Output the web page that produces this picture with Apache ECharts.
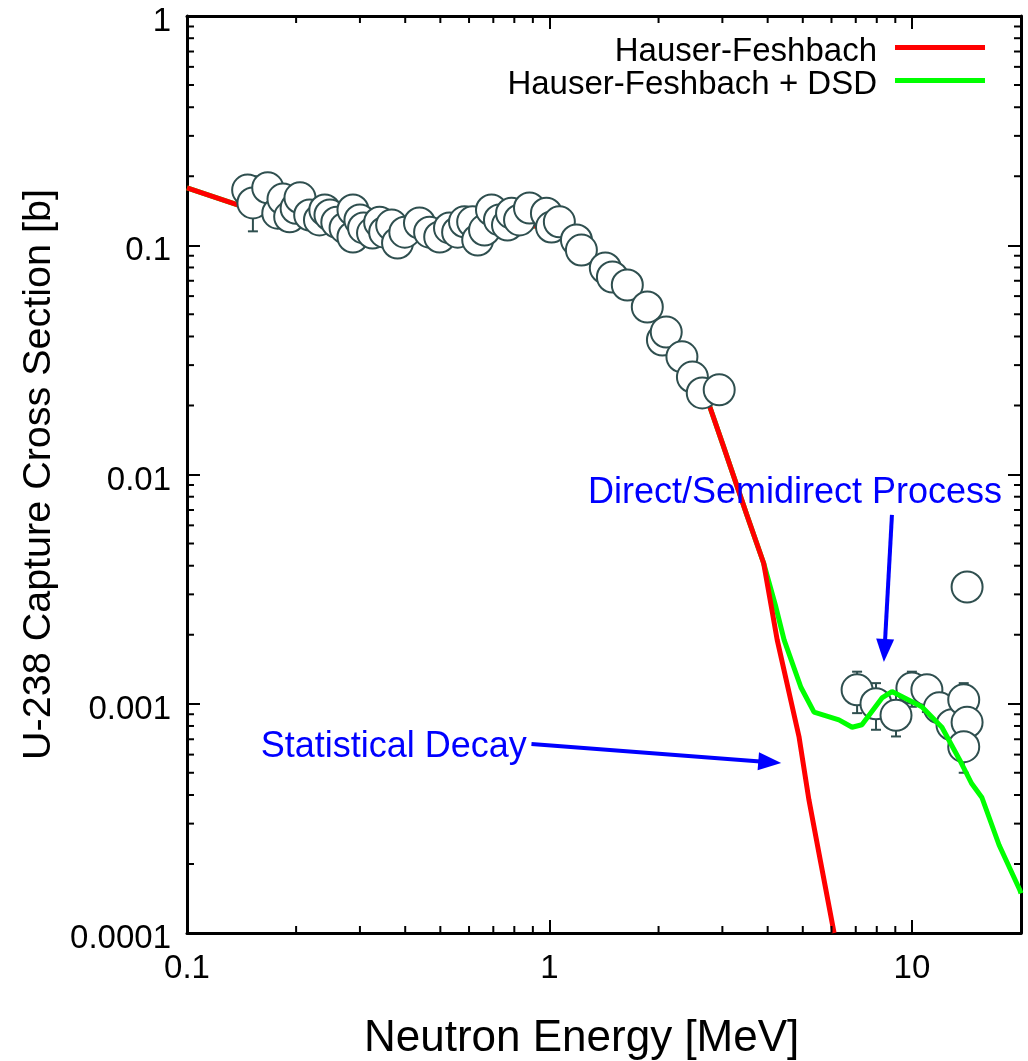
<!DOCTYPE html>
<html>
<head>
<meta charset="utf-8">
<script src="https://cdn.jsdelivr.net/npm/echarts@6/dist/echarts.min.js"></script>
<style>
  html, body { margin: 0; padding: 0; background: #fff; }
  #chart { width: 1028px; height: 1061px; }
</style>
</head>
<body>
<div id="chart"></div>
<script>
// measured capture data below 3 MeV, energy in MeV, cross section in barn
var lowEnergy = [0.147, 0.152, 0.167, 0.178, 0.184, 0.192, 0.200, 0.205, 0.218, 0.232,
  0.240, 0.248, 0.259, 0.273, 0.287, 0.287, 0.300, 0.307, 0.325, 0.340,
  0.351, 0.367, 0.381, 0.399, 0.438, 0.467, 0.498, 0.530, 0.558, 0.583,
  0.614, 0.634, 0.662, 0.692, 0.728, 0.766, 0.786, 0.827, 0.881, 0.981,
  1.013, 1.065, 1.187, 1.225, 1.426, 1.492, 1.640, 1.862, 2.05, 2.10,
  2.32, 2.48, 2.64, 2.94];
var lowXS = [0.174, 0.153, 0.178, 0.138, 0.159, 0.133, 0.145, 0.161, 0.1355, 0.129,
  0.1425, 0.1355, 0.126, 0.119, 0.1086, 0.1425, 0.129, 0.119, 0.113, 0.126,
  0.114, 0.1225, 0.1023, 0.114, 0.125, 0.114, 0.1086, 0.119, 0.114, 0.1265,
  0.1265, 0.1054, 0.1165, 0.1425, 0.129, 0.1225, 0.138, 0.129, 0.1454, 0.138,
  0.120, 0.1265, 0.1054, 0.0953, 0.0796, 0.0727, 0.0671, 0.0538, 0.0386, 0.0418,
  0.0326, 0.0266, 0.0227, 0.0234];

// measured capture data around 14 MeV
var highEnergy = [7.06, 7.96, 9.04, 10.0, 11.0, 11.9, 12.9, 13.9, 14.2, 13.9, 14.2];
var highXS = [0.00115, 0.00100, 0.00089, 0.00117, 0.00115, 0.00096, 0.00081, 0.00104, 0.00083, 0.00065, 0.00323];

// visible error bars
var errEnergy = [0.152, 2.48, 7.06, 7.96, 9.04, 10.0, 11.0, 13.9, 13.9];
var errLow = [0.115, 0.0218, 0.00091, 0.00077, 0.00072, 0.00097, 0.00092, 0.00087, 0.00050];
var errHigh = [0.200, 0.0320, 0.00138, 0.00123, 0.00111, 0.00138, 0.00133, 0.00123, 0.00080];

// Hauser-Feshbach calculation
var hfEnergy = [0.1, 0.138, 0.2, 0.3, 0.5, 0.7, 1.0, 1.2, 1.5, 1.9, 2.3, 2.75, 3.0, 3.5, 3.9,
  4.25, 4.88, 5.2, 5.6, 6.1];
var hfXS = [0.178, 0.150, 0.138, 0.128, 0.122, 0.125, 0.120, 0.105, 0.077, 0.052, 0.033, 0.0204, 0.0137, 0.0067, 0.0041,
  0.0019, 0.00072, 0.00038, 0.000204, 0.0001];

// Hauser-Feshbach + direct/semidirect
var dsdEnergy = [0.1, 0.138, 0.2, 0.3, 0.5, 0.7, 1.0, 1.2, 1.5, 1.9, 2.3, 2.75, 3.0, 3.5, 3.9,
  4.2, 4.44, 4.94, 5.37, 6.29, 6.84, 7.28, 8.27, 8.81, 10.65, 12.1, 13.7, 14.6, 15.6, 17.4, 19.85, 20];
var dsdXS = [0.178, 0.150, 0.138, 0.128, 0.122, 0.125, 0.120, 0.105, 0.077, 0.052, 0.033, 0.0204, 0.0137, 0.0067, 0.0041,
  0.0027, 0.0019, 0.00118, 0.00092, 0.00085, 0.00079, 0.00081, 0.00106, 0.00113, 0.00097, 0.00079, 0.00055, 0.00045, 0.00039, 0.000242, 0.000154, 0.000149];

var xTickLabels = ['0.1', '1', '10'];
var yTickLabels = ['0.0001', '0.001', '0.01', '0.1', '1'];
var xMinorTicks = [0.2, 0.3, 0.4, 0.5, 0.6, 0.7, 0.8, 0.9, 2, 3, 4, 5, 6, 7, 8, 9];
var yMinorTicks = [0.0002, 0.0003, 0.0004, 0.0005, 0.0006, 0.0007, 0.0008, 0.0009,
  0.002, 0.003, 0.004, 0.005, 0.006, 0.007, 0.008, 0.009,
  0.02, 0.03, 0.04, 0.05, 0.06, 0.07, 0.08, 0.09,
  0.2, 0.3, 0.4, 0.5, 0.6, 0.7, 0.8, 0.9];

var annotationTexts = ['Direct/Semidirect Process', 'Statistical Decay'];
var annotationAt = [[4.76, 0.0083], [0.372, 0.000648]];
var arrowFrom = [[8.81, 0.00666], [0.892, 0.000668]];
var arrowTo = [[8.37, 0.00152], [4.36, 0.000551]];

var FONT = '"Liberation Sans", Arial, sans-serif';
var DOT = '#2f4f4f';

function pickLabel(list, rich) {
  return function (v) {
    for (var i = 0; i < list.length; i++) {
      var n = +list[i];
      if (Math.abs(v - n) <= n * 1e-6) return rich ? '{a|' + list[i] + '}' : list[i];
    }
    return '';
  };
}

function zip(a, b) {
  return a.map(function (v, i) { return [v, b[i]]; });
}

function minorX(params, api) {
  var cs = params.coordSys;
  var x = api.coord([api.value(0), 1])[0];
  var b = cs.y + cs.height, t = cs.y;
  var st = { stroke: '#000', lineWidth: 2 };
  return { type: 'group', children: [
    { type: 'line', shape: { x1: x, y1: b, x2: x, y2: b - 7 }, style: st },
    { type: 'line', shape: { x1: x, y1: t, x2: x, y2: t + 7 }, style: st }
  ] };
}

function minorY(params, api) {
  var cs = params.coordSys;
  var y = api.coord([1, api.value(1)])[1];
  var l = cs.x, r = cs.x + cs.width;
  var st = { stroke: '#000', lineWidth: 2 };
  return { type: 'group', children: [
    { type: 'line', shape: { x1: l, y1: y, x2: l + 7, y2: y }, style: st },
    { type: 'line', shape: { x1: r, y1: y, x2: r - 7, y2: y }, style: st }
  ] };
}

function errBar(params, api) {
  var e = api.value(0);
  var lo = api.coord([e, api.value(1)]), hi = api.coord([e, api.value(2)]);
  var w = 5;
  var st = { stroke: DOT, lineWidth: 2 };
  return { type: 'group', children: [
    { type: 'line', shape: { x1: lo[0], y1: lo[1], x2: hi[0], y2: hi[1] }, style: st },
    { type: 'line', shape: { x1: lo[0] - w, y1: lo[1], x2: lo[0] + w, y2: lo[1] }, style: st },
    { type: 'line', shape: { x1: hi[0] - w, y1: hi[1], x2: hi[0] + w, y2: hi[1] }, style: st }
  ] };
}

function arrow(params, api) {
  var s = api.coord([api.value(0), api.value(1)]);
  var t = api.coord([api.value(2), api.value(3)]);
  var dx = t[0] - s[0], dy = t[1] - s[1];
  var len = Math.sqrt(dx * dx + dy * dy);
  var ux = dx / len, uy = dy / len;
  var hl = 23, hw = 9;
  var bx = t[0] - ux * hl, by = t[1] - uy * hl;
  return { type: 'group', children: [
    { type: 'line', shape: { x1: s[0], y1: s[1], x2: bx + ux * 2, y2: by + uy * 2 }, style: { stroke: '#0000ff', lineWidth: 4 } },
    { type: 'polygon', shape: { points: [[t[0], t[1]], [bx - uy * hw, by + ux * hw], [bx + uy * hw, by - ux * hw]] }, style: { fill: '#0000ff' } }
  ] };
}

function note(params, api) {
  var p = api.coord([api.value(0), api.value(1)]);
  return { type: 'text', x: p[0], y: p[1], style: {
    text: annotationTexts[params.dataIndex], fill: '#0000ff',
    fontSize: 36, fontFamily: FONT, align: 'center', verticalAlign: 'middle'
  } };
}

var axisLineStyle = { color: '#000', width: 3 };
var majorTick = { show: true, inside: true, length: 13, lineStyle: { color: '#000', width: 2 } };
var openCircle = { color: '#fff', borderColor: DOT, borderWidth: 2, opacity: 1 };

var chart = echarts.init(document.getElementById('chart'), null, { renderer: 'canvas' });
chart.setOption({
  animation: false,
  backgroundColor: '#fff',
  textStyle: { fontFamily: FONT },
  title: {
    text: 'Neutron Energy [MeV]',
    left: 364, top: 1017, padding: 0,
    textStyle: { fontSize: 44, fontWeight: 'normal', color: '#000', fontFamily: FONT }
  },
  grid: { left: 187, right: 7, top: 16, bottom: 128 },
  legend: {
    data: ['Hauser-Feshbach', 'Hauser-Feshbach + DSD'],
    orient: 'vertical', align: 'right',
    right: 43, top: 27, padding: 0, itemGap: -8,
    icon: 'rect', itemWidth: 90, itemHeight: 5,
    formatter: function (name) { return '{a|' + name + '}'; },
    textStyle: {
      fontSize: 33, color: '#000', fontFamily: FONT,
      rich: { a: { fontSize: 33, color: '#000', fontFamily: FONT, lineHeight: 26, padding: [8, 13, 0, 0] } }
    }
  },
  xAxis: [{
    type: 'log', logBase: 10, min: 0.1, max: 20, interval: 1,
    position: 'bottom',
    axisLine: { onZero: false, lineStyle: axisLineStyle },
    axisTick: majorTick,
    axisLabel: { fontSize: 33, color: '#000', margin: 19, formatter: pickLabel(xTickLabels, false), showMaxLabel: false },
    splitLine: { show: false }
  }, {
    type: 'log', logBase: 10, min: 0.1, max: 20, interval: 1,
    position: 'top',
    axisLine: { onZero: false, lineStyle: axisLineStyle },
    axisTick: majorTick,
    axisLabel: { show: false },
    splitLine: { show: false }
  }],
  yAxis: [{
    type: 'log', logBase: 10, min: 0.0001, max: 1, interval: 1,
    position: 'left',
    name: 'U-238 Capture Cross Section [b]',
    nameLocation: 'middle', nameGap: 122,
    nameTruncate: { maxWidth: 2000 },
    nameTextStyle: { fontSize: 39.5, color: '#000', fontFamily: FONT },
    axisLine: { onZero: false, lineStyle: axisLineStyle },
    axisTick: majorTick,
    axisLabel: {
      fontSize: 33, color: '#000', margin: 16, formatter: pickLabel(yTickLabels, true),
      rich: { a: { fontSize: 33, color: '#000', fontFamily: FONT, padding: [12, 0, 0, 0] } }
    },
    splitLine: { show: false }
  }, {
    type: 'log', logBase: 10, min: 0.0001, max: 1, interval: 1,
    position: 'right',
    axisLine: { onZero: false, lineStyle: axisLineStyle },
    axisTick: majorTick,
    axisLabel: { show: false },
    splitLine: { show: false }
  }],
  series: [
    {
      type: 'custom', renderItem: errBar, z: 1,
      encode: { x: 0, y: [1, 2] },
      data: errEnergy.map(function (e, i) { return [e, errLow[i], errHigh[i]]; })
    },
    {
      type: 'scatter', symbol: 'circle', symbolSize: 31, z: 1,
      data: zip(highEnergy, highXS),
      itemStyle: openCircle
    },
    {
      name: 'Hauser-Feshbach + DSD', type: 'line', z: 2,
      data: zip(dsdEnergy, dsdXS),
      showSymbol: false, color: '#00ff00',
      lineStyle: { color: '#00ff00', width: 5 }
    },
    {
      name: 'Hauser-Feshbach', type: 'line', z: 2,
      data: zip(hfEnergy, hfXS),
      showSymbol: false, color: '#ff0000',
      lineStyle: { color: '#ff0000', width: 5 }
    },
    {
      type: 'scatter', symbol: 'circle', symbolSize: 31, z: 4,
      data: zip(lowEnergy, lowXS),
      itemStyle: openCircle
    },
    {
      type: 'custom', renderItem: minorX, clip: false, silent: true, z: 5,
      encode: { x: 0, y: 1 },
      data: xMinorTicks.map(function (v) { return [v, 1]; })
    },
    {
      type: 'custom', renderItem: minorY, clip: false, silent: true, z: 5,
      encode: { x: 0, y: 1 },
      data: yMinorTicks.map(function (v) { return [1, v]; })
    },
    {
      type: 'custom', renderItem: arrow, clip: false, z: 6,
      encode: { x: [0, 2], y: [1, 3] },
      data: arrowFrom.map(function (f, i) { return [f[0], f[1], arrowTo[i][0], arrowTo[i][1]]; })
    },
    {
      type: 'custom', renderItem: note, clip: false, z: 6,
      encode: { x: 0, y: 1 },
      data: annotationAt
    }
  ]
});
</script>
</body>
</html>
